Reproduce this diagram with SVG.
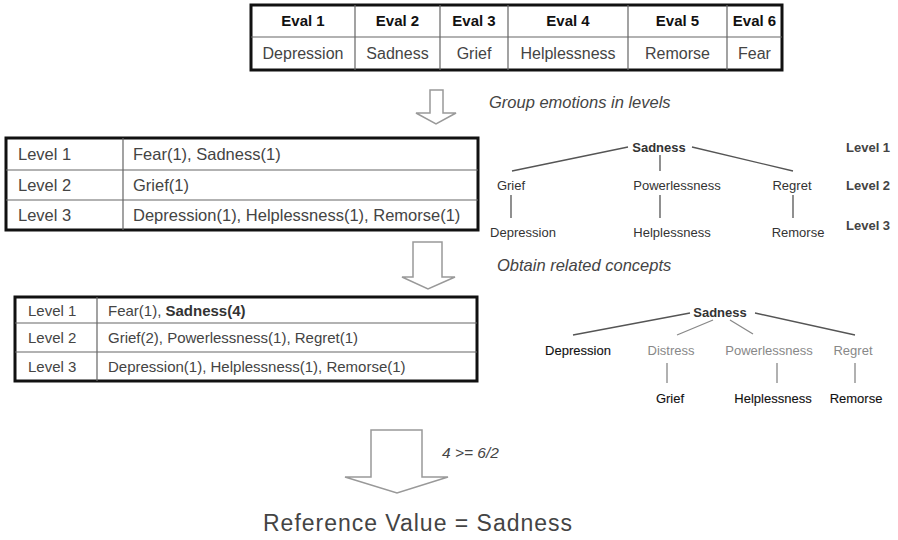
<svg xmlns="http://www.w3.org/2000/svg" width="898" height="540" viewBox="0 0 898 540">
<style>
text{font-family:"Liberation Sans",Arial,sans-serif;fill:#333}
.hd{font-size:15px;font-weight:bold;fill:#111;text-anchor:middle}
.cell{font-size:16px;fill:#444;text-anchor:middle}
.tc{font-size:15px;fill:#444}
.tc2{font-size:16.5px;fill:#444}
.outer{fill:#fff;stroke:#111;stroke-width:3}
.inner{stroke:#666;stroke-width:1.2;fill:none}
.arrow{fill:#fff;stroke:#999;stroke-width:1.5;stroke-linejoin:miter}
.note{font-size:16.5px;font-style:italic;fill:#444}
.tr{font-size:13px;fill:#333;text-anchor:middle}
.trb{font-size:13px;font-weight:bold;fill:#333;text-anchor:middle}
.lv{font-size:13px;font-weight:bold;fill:#444}
.lg{fill:#888}
.dk{fill:#111;stroke:#111;stroke-width:0.12}
.edge{stroke:#555;stroke-width:1.3;fill:none}
.edgel{stroke:#888;stroke-width:1.3;fill:none}
</style>

<g id="evalTable">
<rect class="outer" x="251" y="5" width="531" height="65"/>
<path class="inner" d="M251 37H782M355 5V70M440 5V70M508 5V70M628 5V70M727 5V70"/>
<text class="hd" x="303" y="26">Eval 1</text>
<text class="hd" x="397.5" y="26">Eval 2</text>
<text class="hd" x="474" y="26">Eval 3</text>
<text class="hd" x="568" y="26">Eval 4</text>
<text class="hd" x="677.5" y="26">Eval 5</text>
<text class="hd" x="754.5" y="26">Eval 6</text>
<text class="cell" x="303" y="59">Depression</text>
<text class="cell" x="397.5" y="59">Sadness</text>
<text class="cell" x="474" y="59">Grief</text>
<text class="cell" x="568" y="59">Helplessness</text>
<text class="cell" x="677.5" y="59">Remorse</text>
<text class="cell" x="754.5" y="59">Fear</text>
</g>

<g id="arrow1">
<path class="arrow" d="M430 90H443V113H456L436 124L416 113H430Z"/>
<text class="note" x="489" y="108">Group emotions in levels</text>
</g>

<g id="levelTable1">
<rect class="outer" x="6" y="138" width="472" height="92"/>
<path class="inner" d="M6 170H478M6 200H478M123 138V230"/>
<text class="tc2" x="18" y="160">Level 1</text>
<text class="tc2" x="18" y="191">Level 2</text>
<text class="tc2" x="18" y="221">Level 3</text>
<text class="tc2" x="133" y="160">Fear(1), Sadness(1)</text>
<text class="tc2" x="133" y="191">Grief(1)</text>
<text class="tc2" x="133" y="221">Depression(1), Helplessness(1), Remorse(1)</text>
</g>

<g id="tree1">
<g id="connectors1">
<path class="edge" d="M512 171L628 147M692 147L793 171M660 155V171M511 195V218M660 195V218M793 195V218"/>
</g>
<text class="trb" x="659" y="152">Sadness</text>
<text class="tr" x="511" y="190">Grief</text>
<text class="tr" x="677" y="190">Powerlessness</text>
<text class="tr" x="792" y="190">Regret</text>
<text class="tr" x="523" y="237">Depression</text>
<text class="tr" x="672" y="237">Helplessness</text>
<text class="tr" x="798" y="237">Remorse</text>
<text class="lv" x="846" y="152">Level 1</text>
<text class="lv" x="846" y="190">Level 2</text>
<text class="lv" x="846" y="230">Level 3</text>
</g>

<g id="arrow2">
<path class="arrow" d="M413 242H442V277H455L428 289L402 277H413Z"/>
<text class="note" x="497" y="271">Obtain related concepts</text>
</g>

<g id="levelTable2">
<rect class="outer" x="15" y="297" width="462" height="84"/>
<path class="inner" d="M15 323H477M15 352H477M97 297V381"/>
<text class="tc" x="28" y="316">Level 1</text>
<text class="tc" x="28" y="343">Level 2</text>
<text class="tc" x="28" y="372">Level 3</text>
<text class="tc" x="108" y="316">Fear(1), <tspan font-weight="bold" fill="#333">Sadness(4)</tspan></text>
<text class="tc" x="108" y="343">Grief(2), Powerlessness(1), Regret(1)</text>
<text class="tc" x="108" y="372">Depression(1), Helplessness(1), Remorse(1)</text>
</g>

<g id="tree2">
<g id="connectors2">
<path class="edge" d="M573 335L690 313M755 313L855 335"/>
<path class="edgel" d="M677 335L713 320M730 320L753 334M667 363V383M777 363V383M855 363V383"/>
</g>
<text class="trb" x="720" y="317">Sadness</text>
<text class="tr dk" x="578" y="355">Depression</text>
<text class="tr lg" x="671" y="355">Distress</text>
<text class="tr lg" x="769" y="355">Powerlessness</text>
<text class="tr lg" x="853" y="355">Regret</text>
<text class="tr dk" x="670" y="403">Grief</text>
<text class="tr dk" x="773" y="403">Helplessness</text>
<text class="tr dk" x="856" y="403">Remorse</text>
</g>

<g id="arrow3">
<path class="arrow" d="M371 430H422V477H448L397 493L345 477H371Z"/>
<text class="note" x="442" y="458" style="font-size:15.5px">4 &gt;= 6/2</text>
</g>

<g id="result">
<text x="263" y="531" style="font-size:23px;fill:#444" textLength="309">Reference Value = Sadness</text>
</g>
</svg>
